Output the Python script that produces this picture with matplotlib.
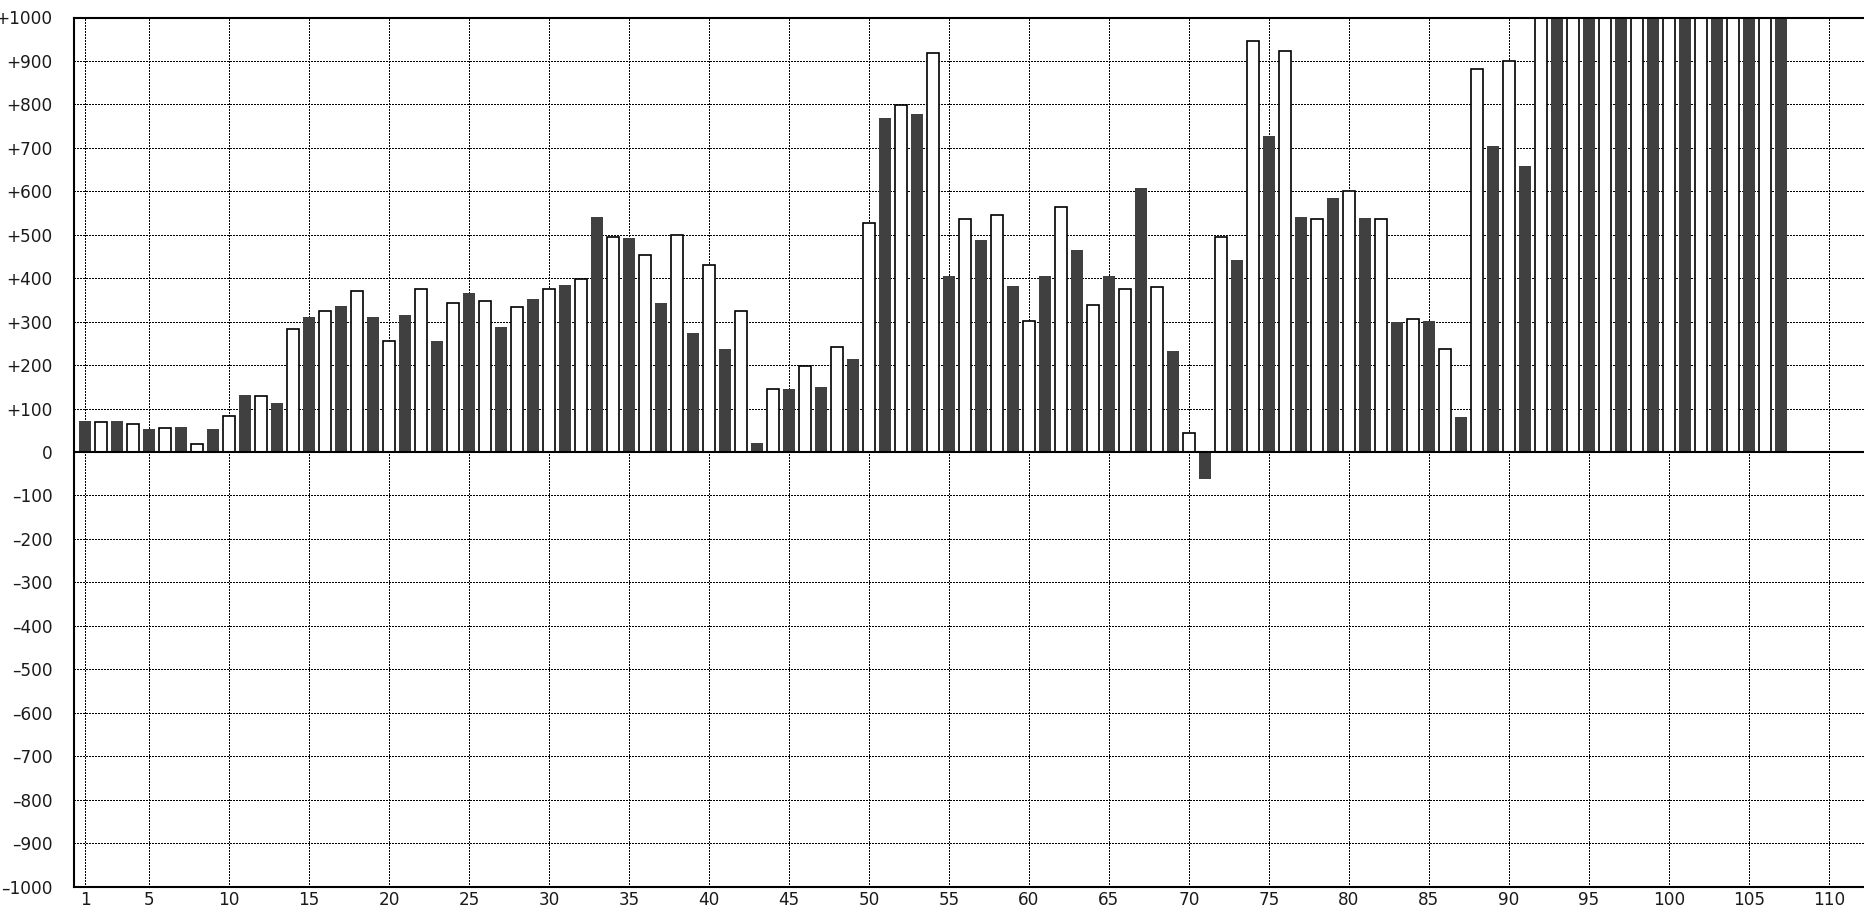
import numpy as np
from matplotlib import pyplot as plt
from matplotlib.ticker import FuncFormatter

# Dark bars sit on the odd positions, outlined white bars on the even ones.
# Values above the axis limit (positions 92..107) are cut off at +1000.
dark_values = [
    71, 71, 52, 57, 52, 131, 112, 311, 335, 311,
    316, 256, 367, 288, 353, 385, 542, 492, 344, 275,
    238, 20, 145, 150, 215, 768, 778, 404, 487, 381,
    404, 464, 404, 607, 233, -62, 441, 727, 542, 584,
    538, 299, 302, 80, 704, 658,
    1000, 1000, 1000, 1000, 1000, 1000, 1000, 1000,
]
white_values = [
    69, 65, 55, 19, 84, 130, 282, 324, 370, 255,
    375, 342, 347, 333, 375, 398, 495, 453, 499, 430,
    324, 144, 198, 241, 527, 798, 919, 536, 545, 301,
    564, 338, 375, 379, 43, 495, 947, 924, 536, 601,
    536, 305, 236, 882, 901,
    1000, 1000, 1000, 1000, 1000, 1000, 1000, 1000,
]
dark_x = np.arange(1, 2 * len(dark_values), 2)
white_x = np.arange(2, 2 * len(white_values) + 1, 2)

x_ticks = [1] + list(range(5, 111, 5))
y_ticks = list(range(-1000, 1001, 100))


def signed(value, _pos):
    """Formats axis values the way the original chart does: +900, 0, -100."""
    if value > 0:
        return f"+{value:.0f}"
    if value < 0:
        return f"\u2013{abs(value):.0f}"
    return "0"


fig = plt.figure(figsize=(18.64, 9.08), dpi=100)
ax = fig.add_axes([74 / 1864, 21.5 / 908, 1 - 74 / 1864, 869 / 908])

bar_width = 0.72
ax.bar(dark_x, dark_values, width=bar_width, color="#404040", linewidth=0, zorder=2)
ax.bar(white_x, white_values, width=bar_width, color="white",
       edgecolor="black", linewidth=1.2, zorder=2)

ax.axhline(0, color="black", linewidth=1.5, zorder=3)

ax.set_xlim(0.31, 112.19)
ax.set_ylim(-1000, 1000)
ax.set_xticks(x_ticks)
ax.set_yticks(y_ticks)
ax.yaxis.set_major_formatter(FuncFormatter(signed))

# crisp black dotted grid, like the pixel dots of the original
ax.set_axisbelow(True)
ax.grid(True, color="black", linestyle=(0, (1, 1)), linewidth=1.0, antialiased=False)

ax.tick_params(axis="both", length=0, labelsize=12.2, labelcolor="#1a1a1a")
ax.tick_params(axis="x", pad=3.2)
ax.tick_params(axis="y", pad=15.5)

for side in ("left", "top", "bottom"):
    ax.spines[side].set_linewidth(1.5)
    ax.spines[side].set_color("black")
ax.spines["right"].set_visible(False)

fig.savefig("out.png", dpi=100)
